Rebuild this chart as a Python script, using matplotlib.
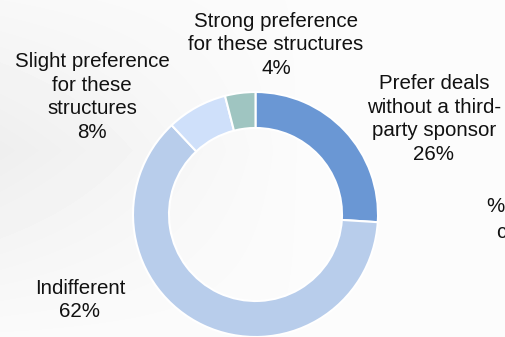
import numpy as np
import matplotlib
matplotlib.use("Agg")
import matplotlib.pyplot as plt

plt.rcParams['font.family'] = ['Liberation Sans', 'DejaVu Sans']

# Survey responses: preference for third-party sponsored structures
categories = ["Prefer deals\nwithout a third-\nparty sponsor",
              "Indifferent",
              "Slight preference\nfor these\nstructures",
              "Strong preference\nfor these structures"]
shares = [26, 62, 8, 4]
colors = ["#6a97d4", "#b8cdeb", "#cfe0fa", "#9fc5c1"]

W, H = 505, 337
fig = plt.figure(figsize=(W / 100, H / 100), dpi=100)
ax = fig.add_axes([0, 0, 1, 1])

# soft grey backdrop, lighter towards the right
yy, xx = np.mgrid[0:H, 0:W]
bg = 0.985 - 0.05 * np.clip(1 - xx / 300.0, 0, 1) * np.clip(1 - np.abs(yy - 150) / 200.0, 0, 1)
ax.imshow(bg, cmap='gray', vmin=0, vmax=1, extent=[0, W, 0, H], zorder=0, aspect='auto')

cx, cy, R = 255.5, H - 214.5, 122.5
ax.pie(shares, colors=colors, startangle=90, counterclock=False,
       center=(cx, cy), radius=R, frame=True,
       wedgeprops=dict(width=36, edgecolor='white', linewidth=1.5))
ax.set_xlim(0, W)
ax.set_ylim(0, H)
ax.set_aspect('equal')
ax.axis('off')

label_pos = [(434, 119), (80, 300), (92, 97), (276, 45)]
for cat, val, (x, y) in zip(categories, shares, label_pos):
    ax.text(x, H - y, f"{cat}\n{val}%", ha='center', va='center',
            fontsize=14.8, linespacing=1.32, color='#111111', zorder=5)

# partially visible annotation at the right edge
ax.text(495, H - 207, "%", ha='center', va='center', fontsize=14.8, color='#111111')
ax.text(496, H - 233, "c", ha='left', va='center', fontsize=14.8, color='#111111')

fig.savefig("out.png", dpi=100)
